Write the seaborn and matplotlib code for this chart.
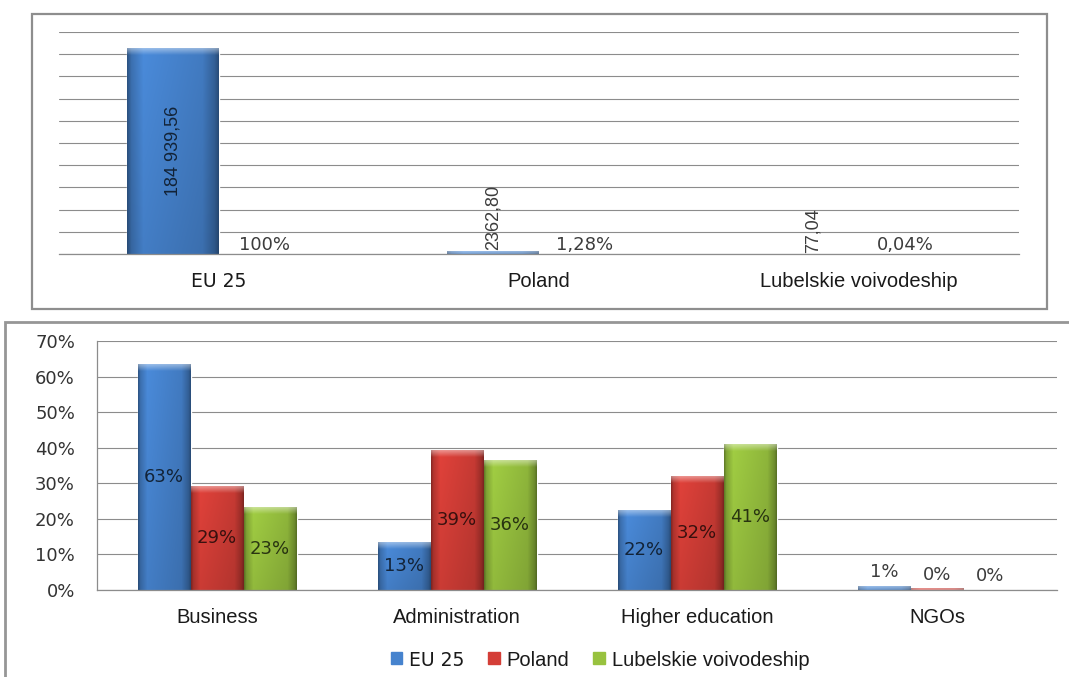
import numpy as np
import pandas as pd
import matplotlib
matplotlib.use("Agg")
import matplotlib.pyplot as plt
from matplotlib.colors import to_rgb
from matplotlib.patches import Rectangle, Patch
import seaborn as sns

# ---- upper chart: expenditure level and share of EU 25 ----
regions = ["EU 25", "Poland", "Lubelskie voivodeship"]
absolute_values = [184939.56, 2362.80, 77.04]
share_of_eu = [1.0, 0.0128, 0.0004]

# ---- lower chart: structure by sector (%) ----
sectors = ["Business", "Administration", "Higher education", "NGOs"]
series_names = ["EU 25", "Poland", "Lubelskie voivodeship"]
eu25_pct = [63.4, 13.4, 22.3, 1.1]
poland_pct = [29.0, 39.2, 32.0, 0.3]
lubelskie_pct = [23.3, 36.3, 40.8, 0.0]
pct_ticks = [0, 10, 20, 30, 40, 50, 60, 70]

BLUE, RED, GREEN = "#4683CE", "#D43E37", "#98C23F"
GRID = "#8c8c8c"
ARIAL = ["Liberation Sans", "DejaVu Sans"]
VERD = ["DejaVu Sans"]
NARROW = ["Liberation Sans Narrow", "Liberation Sans", "DejaVu Sans"]
FS_ARIAL = 14.5
FS_VERD = 13

sns.set_style("white")
plt.rcParams["font.family"] = ARIAL

W, H = 1069, 677
fig = plt.figure(figsize=(W / 100, H / 100), dpi=100)


def px_box(x0, y0, x1, y1):
    """Pixel box (origin top-left) -> figure fraction rect."""
    return [x0 / W, 1 - y1 / H, (x1 - x0) / W, (y1 - y0) / H]


def px(n):
    return n * 72 / 100  # pixels -> points


# panel frames
fig.patches.append(Rectangle((32 / W, 1 - 309 / H), (1047 - 32) / W, (309 - 14) / H,
                             transform=fig.transFigure, fill=False,
                             edgecolor="#8e8e8e", lw=1.6))
fig.patches.append(Rectangle((5 / W, 1 - 720 / H), 1.2, (720 - 322) / H,
                             transform=fig.transFigure, fill=False,
                             edgecolor="#969696", lw=2.0))

ax_top = fig.add_axes(px_box(59, 32, 1019, 254))
ax_bot = fig.add_axes(px_box(97, 341, 1057, 590))


def bevel_image(base, w_px, h_px):
    rgb = np.array(to_rgb(base))
    u = (np.arange(w_px) + 0.5) / w_px
    prof = np.interp(u, [0, 0.05, 0.18, 0.5, 0.82, 0.95, 1.0],
                     [0.62, 0.86, 1.06, 1.0, 0.94, 0.74, 0.58])
    rows = np.arange(h_px) + 0.5
    vert = 1.0 - 0.10 * rows / max(h_px, 1)
    img = rgb[None, None, :] * prof[None, :, None] * vert[:, None, None]
    lift = np.clip(1 - rows / 7.0, 0, 1) * 0.45
    img = img + (1 - img) * lift[:, None, None]
    return np.clip(img, 0, 1)


def shade_bars(ax, containers, colors):
    xlim, ylim = ax.get_xlim(), ax.get_ylim()
    for cont, col in zip(containers, colors):
        for p in cont.patches:
            h = p.get_height()
            if h <= 0:
                continue
            x0, y0 = p.get_x(), p.get_y()
            x1, y1 = x0 + p.get_width(), y0 + h
            (a, b), (c, d) = ax.transData.transform([(x0, y0), (x1, y1)])
            if d - b < 0.5:
                p.set_visible(False)
                continue
            wp, hp = max(int(round(c - a)), 2), max(int(round(d - b)), 1)
            ax.imshow(bevel_image(col, wp, hp), extent=(x0, x1, y0, y1),
                      origin="upper", aspect="auto", interpolation="bilinear",
                      zorder=p.get_zorder() + 0.1)
    ax.set_xlim(xlim)
    ax.set_ylim(ylim)


def style_axes(ax, n):
    ax.set_xlim(-0.5, n - 0.5)
    ax.set_xticks(np.arange(-0.5, n, 1.0), minor=True)
    ax.tick_params(axis="x", which="major", length=0, pad=px(18),
                   labelsize=FS_ARIAL, labelcolor="#1a1a1a")
    ax.tick_params(axis="x", which="minor", length=px(5), width=0.8,
                   color=GRID, direction="out")
    ax.grid(axis="y", color=GRID, lw=0.8)
    ax.grid(axis="x", visible=False)
    ax.set_axisbelow(True)
    ax.set_xlabel("")
    ax.set_ylabel("")
    for s in ["top", "right"]:
        ax.spines[s].set_visible(False)
    ax.spines["bottom"].set_color(GRID)
    ax.spines["bottom"].set_linewidth(0.9)
    ax.set_facecolor("none")


# ---------------- upper chart ----------------
top_df = pd.DataFrame({
    "region": regions * 2,
    "value": absolute_values + share_of_eu,
    "measure": ["absolute"] * 3 + ["share"] * 3,
})
sns.barplot(data=top_df, x="region", y="value", hue="measure",
            palette=[BLUE, RED], width=0.575, errorbar=None, saturation=1,
            legend=False, ax=ax_top)
style_axes(ax_top, len(regions))
ax_top.set_ylim(0, 200000)
ax_top.set_yticks(np.arange(0, 200001, 20000))
ax_top.tick_params(axis="y", length=0, labelleft=False)
ax_top.spines["left"].set_visible(False)
for lab in ax_top.get_xticklabels():
    if lab.get_text() == "EU 25":
        lab.set_fontfamily(VERD)
        lab.set_fontsize(FS_VERD + 0.5)

shade_bars(ax_top, ax_top.containers, [BLUE, RED])


def pl_number(v):
    s = f"{v:,.2f}" if v >= 10000 else f"{v:.2f}"
    return s.replace(",", " ").replace(".", ",")


for p, v in zip(ax_top.containers[0].patches, absolute_values):
    cx = p.get_x() + p.get_width() / 2
    hpx = ax_top.transData.transform((0, v))[1] - ax_top.transData.transform((0, 0))[1]
    if hpx > 100:
        ax_top.text(cx, v / 2, pl_number(v), rotation=90, ha="center", va="center",
                    fontsize=13, family=NARROW, color="black", alpha=0.72, zorder=5)
    else:
        ax_top.annotate(pl_number(v), (cx, v), xytext=(0, px(1)), textcoords="offset points",
                        rotation=90, ha="center", va="bottom", fontsize=13,
                        family=NARROW, color="#3c3c3c", zorder=5)

for p, s in zip(ax_top.containers[1].patches, share_of_eu):
    cx = p.get_x() + p.get_width() / 2
    txt = f"{s * 100:g}%".replace(".", ",")
    ax_top.annotate(txt, (cx, s), xytext=(0, px(0)), textcoords="offset points",
                    ha="center", va="bottom", fontsize=FS_VERD, family=VERD,
                    color="#3c3c3c", zorder=5)

# ---------------- lower chart ----------------
bot_df = pd.DataFrame({
    "sector": sectors * 3,
    "pct": eu25_pct + poland_pct + lubelskie_pct,
    "area": [series_names[0]] * 4 + [series_names[1]] * 4 + [series_names[2]] * 4,
})
palette = [BLUE, RED, GREEN]
sns.barplot(data=bot_df, x="sector", y="pct", hue="area", hue_order=series_names,
            palette=palette, width=0.6625, errorbar=None, saturation=1,
            legend=False, ax=ax_bot)
style_axes(ax_bot, len(sectors))
ax_bot.set_ylim(0, 70)
ax_bot.set_yticks(pct_ticks)
ax_bot.set_yticklabels([f"{t}%" for t in pct_ticks], family=VERD)
ax_bot.tick_params(axis="y", length=px(10), width=0.8, color=GRID, direction="out",
                   pad=px(12), labelsize=FS_VERD, labelcolor="#333333")
ax_bot.spines["left"].set_color(GRID)
ax_bot.spines["left"].set_linewidth(0.9)

shade_bars(ax_bot, ax_bot.containers, palette)

for cont, vals in zip(ax_bot.containers, [eu25_pct, poland_pct, lubelskie_pct]):
    for p, v in zip(cont.patches, vals):
        cx = p.get_x() + p.get_width() / 2
        txt = f"{v:.0f}%"
        if v >= 5:
            ax_bot.text(cx, v / 2, txt, ha="center", va="center", fontsize=FS_VERD,
                        family=VERD, color="black", alpha=0.72, zorder=5)
        else:
            ax_bot.annotate(txt, (cx, v), xytext=(0, px(5)), textcoords="offset points",
                            ha="center", va="bottom", fontsize=FS_VERD, family=VERD,
                            color="#3c3c3c", zorder=5)

handles = [Patch(facecolor=c, edgecolor=c) for c in palette]
leg = fig.legend(handles, series_names, loc="center", ncol=3, frameon=False,
                 bbox_to_anchor=(600 / W, 1 - 660 / H), fontsize=FS_ARIAL,
                 handlelength=0.55, handleheight=0.55, handletextpad=0.35,
                 columnspacing=1.2)
for t in leg.get_texts():
    if t.get_text() == "EU 25":
        t.set_fontfamily(VERD)
        t.set_fontsize(FS_VERD + 0.5)
    t.set_color("#1a1a1a")

fig.savefig("out.png", dpi=100)
